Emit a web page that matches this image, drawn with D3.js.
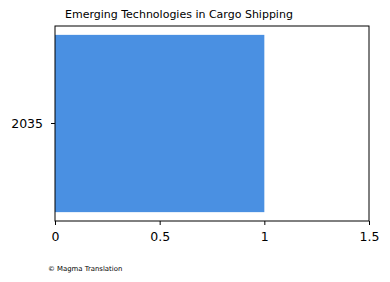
<!DOCTYPE html>
<html>
<head>
<meta charset="utf-8">
<script src="https://cdn.jsdelivr.net/npm/d3@7"></script>
<style>
  body { margin: 0; background: #fff; }
  text { font-family: 'DejaVu Sans', sans-serif; }
</style>
</head>
<body>
<div class="holder"></div>
<script>
const years = ['2035'];
const values = [1];
const xTicks = [0, 0.5, 1, 1.5];

const width = 390;
const height = 282;
const margin = { left: 55, right: 21, top: 26, bottom: 61 };

const svg = d3
  .select('.holder')
  .append('svg')
  .attr('width', width)
  .attr('height', height);

const xScale = d3
  .scaleLinear()
  .domain([0, 1.5])
  .range([margin.left, width - margin.right]);

const yScale = d3
  .scaleBand()
  .domain(years)
  .range([margin.top, height - margin.bottom])
  .paddingInner(0)
  .paddingOuter(0.05);

svg
  .selectAll('rect.bar')
  .data(values)
  .enter()
  .append('rect')
  .attr('class', 'bar')
  .attr('x', xScale(0))
  .attr('y', (d, i) => yScale(years[i]))
  .attr('width', d => xScale(d) - xScale(0))
  .attr('height', yScale.bandwidth())
  .style('fill', '#4a90e2');

// frame
svg
  .append('rect')
  .attr('x', margin.left)
  .attr('y', margin.top)
  .attr('width', width - margin.left - margin.right)
  .attr('height', height - margin.top - margin.bottom)
  .style('fill', 'none')
  .style('stroke', '#000')
  .style('stroke-width', 1);

const xAxis = d3
  .axisBottom(xScale)
  .tickValues(xTicks)
  .tickFormat(d3.format('~g'))
  .tickSize(4)
  .tickPadding(7);

const gx = svg
  .append('g')
  .attr('transform', `translate(0, ${height - margin.bottom})`)
  .call(xAxis);
gx.select('.domain').remove();
gx.selectAll('text').style('font-size', '12.5px').style('fill', '#000');

const yAxis = d3.axisLeft(yScale).tickSize(4).tickPadding(8);
const gy = svg
  .append('g')
  .attr('transform', `translate(${margin.left}, 0)`)
  .call(yAxis);
gy.select('.domain').remove();
gy.selectAll('text').style('font-size', '12.5px').style('fill', '#000');

svg
  .append('text')
  .attr('x', 65)
  .attr('y', 18)
  .style('font-size', '11px')
  .style('fill', '#000')
  .text('Emerging Technologies in Cargo Shipping');

svg
  .append('text')
  .attr('x', 48)
  .attr('y', 271)
  .style('font-size', '6.9px')
  .style('fill', '#000')
  .text('© Magma Translation');
</script>
</body>
</html>
